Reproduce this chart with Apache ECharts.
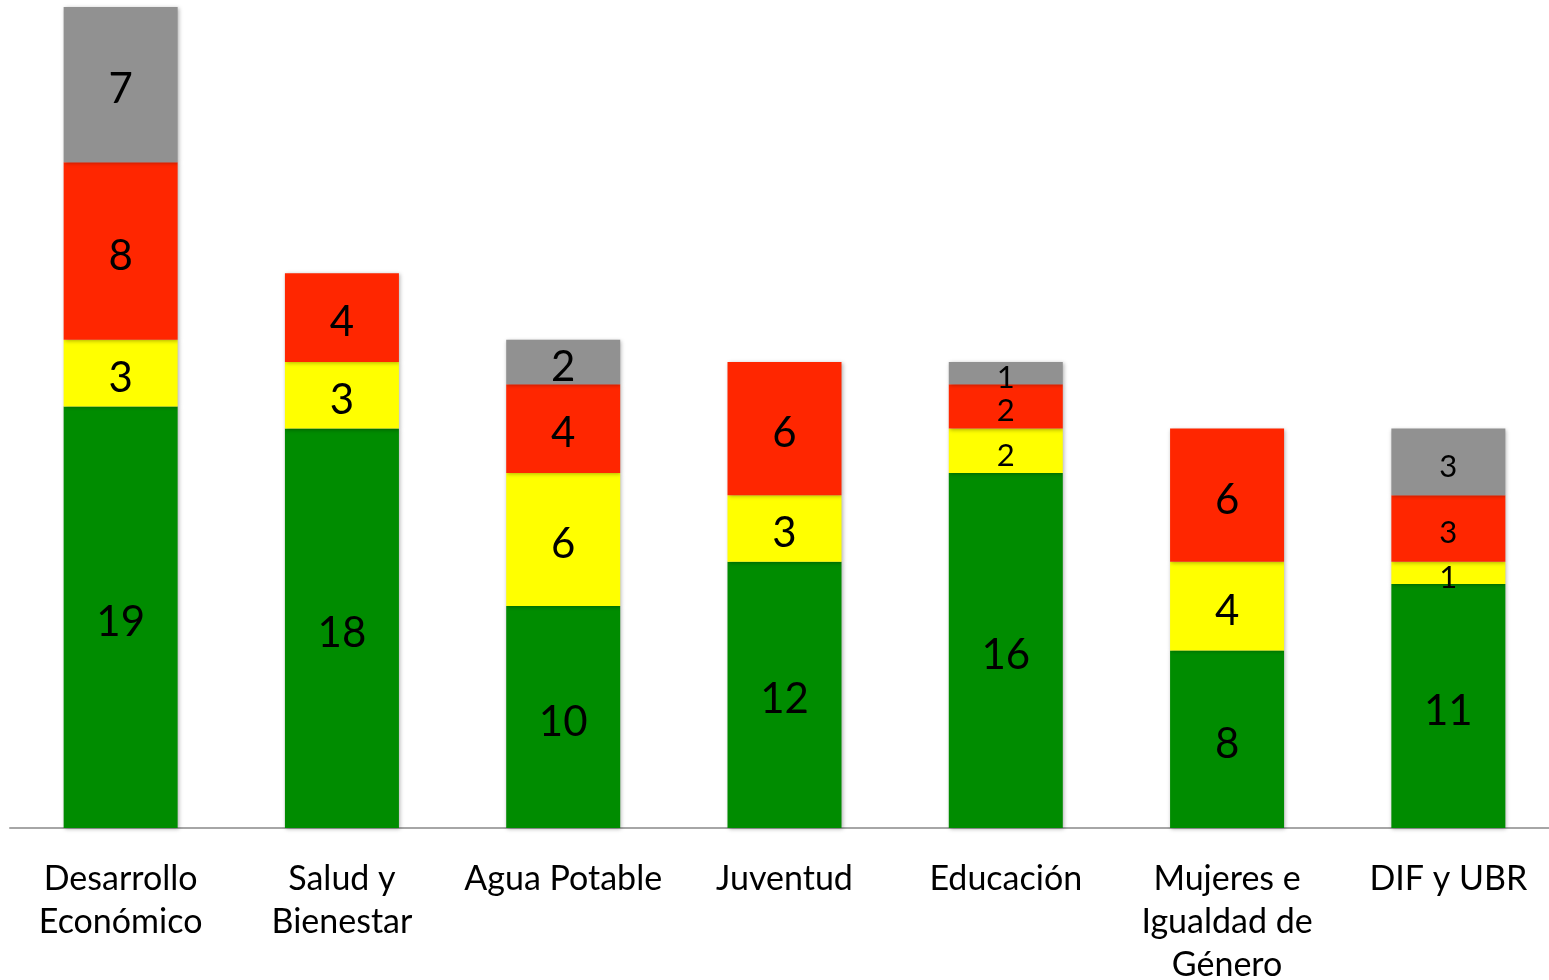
<!DOCTYPE html>
<html>
<head>
<meta charset="utf-8">
<script src="https://cdn.jsdelivr.net/npm/echarts@6/dist/echarts.min.js"></script>
<style>
html,body{margin:0;padding:0;background:#fff;}
#c{width:1549px;height:980px;}
</style>
</head>
<body>
<div id="c"></div>
<script>
const categories = ['Desarrollo\nEconómico', 'Salud y\nBienestar', 'Agua Potable', 'Juventud', 'Educación', 'Mujeres e\nIgualdad de\nGénero', 'DIF y UBR'];
const greenValues = [19, 18, 10, 12, 16, 8, 11];
const yellowValues = [3, 3, 6, 3, 2, 4, 1];
const redValues = [8, 4, 4, 6, 2, 6, 3];
const grayValues = [7, 0, 2, 0, 1, 0, 3];

const smallLabelCats = [4, 6];
const FONT = 'Lato, "Open Sans", sans-serif';

function mkSeries(name, values, color, allowSmall) {
  return {
    name: name,
    type: 'bar',
    stack: 'total',
    barWidth: 114,
    data: values.map((v, i) => ({
      value: v,
      label: { fontSize: (allowSmall && smallLabelCats.indexOf(i) >= 0) ? 31 : 42 }
    })),
    itemStyle: {
      color: color,
      shadowBlur: 4,
      shadowColor: 'rgba(0,0,0,0.3)',
      shadowOffsetX: 1,
      shadowOffsetY: 1
    },
    label: {
      show: true,
      position: 'inside',
      offset: [0, 5],
      color: '#000',
      fontFamily: FONT,
      formatter: p => (p.value ? String(p.value) : '')
    }
  };
}

const chart = echarts.init(document.getElementById('c'), null, { renderer: 'canvas' });
chart.setOption({
  animation: false,
  backgroundColor: '#fff',
  grid: { left: 10, right: -10, top: 7, bottom: 152, containLabel: false, outerBoundsMode: 'none' },
  xAxis: {
    type: 'category',
    data: categories,
    axisLine: { show: true, lineStyle: { color: '#a6a6a6', width: 2 } },
    axisTick: { show: false },
    axisLabel: {
      interval: 0,
      color: '#000',
      fontSize: 34,
      lineHeight: 43,
      margin: 30,
      fontFamily: FONT
    }
  },
  yAxis: {
    type: 'value',
    min: 0,
    max: 37,
    show: false,
    splitLine: { show: false }
  },
  series: [
    mkSeries('Verde', greenValues, '#008c00', false),
    mkSeries('Amarillo', yellowValues, '#ffff00', true),
    mkSeries('Rojo', redValues, '#ff2600', true),
    mkSeries('Gris', grayValues, '#919191', true)
  ]
});
</script>
</body>
</html>
